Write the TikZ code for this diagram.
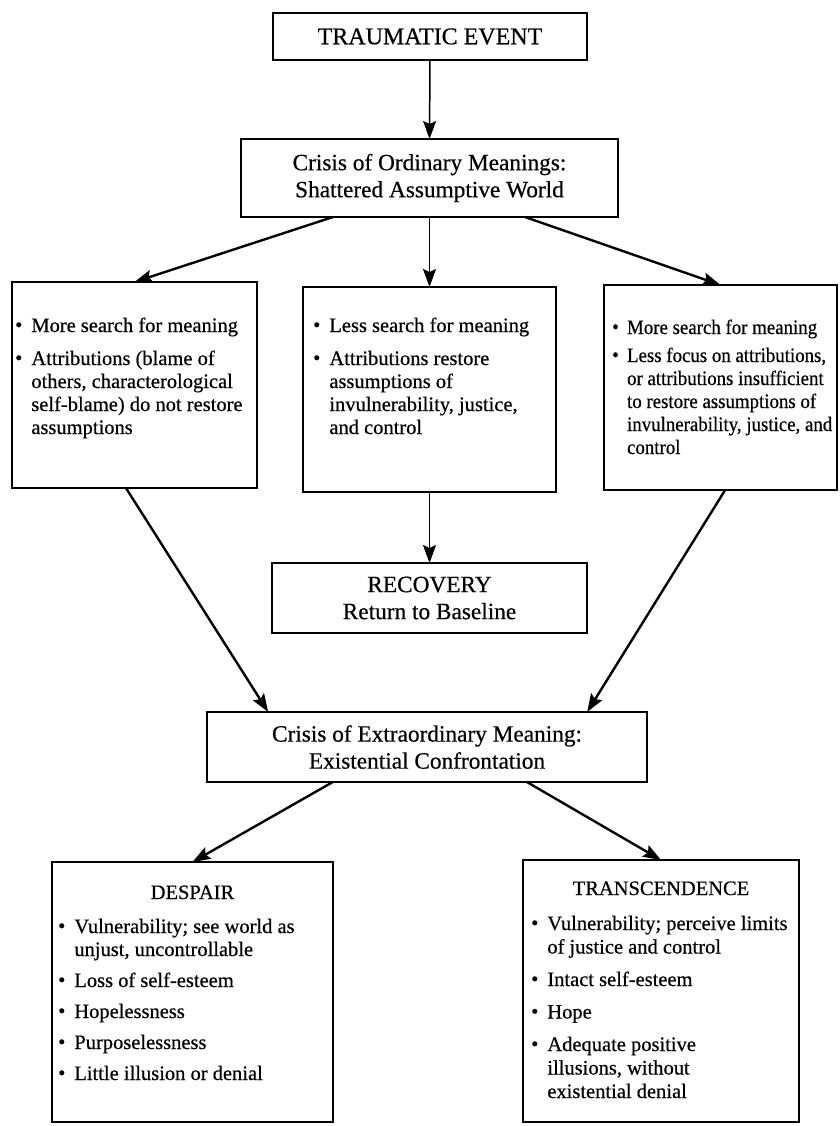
\documentclass[tikz,border=0pt]{standalone}
\usepackage{fontspec}
\setmainfont{Liberation Serif}[FakeBold=0.5]
\usepackage{graphicx}
\usetikzlibrary{arrows.meta,calc}

% list bullet
\newcommand{\bt}{\raisebox{0.02em}{\textbullet}}
\newcommand{\bodysize}{\fontsize{20.5}{23}\selectfont}
\newcommand{\headsize}{\fontsize{23.3}{27}\selectfont}

\begin{document}
\begin{tikzpicture}[x=1pt,y=-1pt,
  box/.style={draw, line width=1.4pt, inner sep=0pt, outer sep=0pt, anchor=north west},
  headbox/.style={box, font=\headsize, align=center},
  listtext/.style={font=\bodysize, inner sep=0pt, anchor=base west},
  boxtitle/.style={font=\bodysize, inner sep=0pt, anchor=base},
  arr/.style={-{Stealth[length=18pt,width=13pt,inset=3pt]}, line width=1.5pt},
  darr/.style={arr, line width=2.4pt}]
\fill[white] (0,0) rectangle (839,1126);
\useasboundingbox (0,0) rectangle (839,1126);

% ---- headline boxes
\node[box, minimum width=314pt, minimum height=47pt, font=\fontsize{24}{27}\selectfont] (te) at (273,13) {TRAUMATIC EVENT};
\node[headbox, minimum width=377pt, minimum height=78pt] (ca) at (241,139) {Crisis of Ordinary Meanings:\\Shattered Assumptive World};
\node[headbox, minimum width=315pt, minimum height=70pt] (rec) at (272,563) {RECOVERY\\Return to Baseline};
\node[headbox, minimum width=440pt, minimum height=70pt] (ce) at (207,712) {Crisis of Extraordinary Meaning:\\Existential Confrontation};

% ---- three paths
\node[box, minimum width=245pt, minimum height=206pt] (lb) at (12,282) {};
\node[box, minimum width=253pt, minimum height=205pt] (mb) at (303,287) {};
\node[box, minimum width=233pt, minimum height=205pt] (rb) at (604,285) {};

\node[listtext] (lbt) at (15,332) {\begin{tabular}[t]{@{}l@{\hspace{9pt}}l@{}}
\bt & More search for meaning\\[10pt]
\bt & Attributions (blame of\\
    & others, characterological\\
    & self-blame) do not restore\\
    & assumptions
\end{tabular}};

\node[listtext] (mbt) at (313,332) {\begin{tabular}[t]{@{}l@{\hspace{9pt}}l@{}}
\bt & Less search for meaning\\[10pt]
\bt & Attributions restore\\
    & assumptions of\\
    & invulnerability, justice,\\
    & and control
\end{tabular}};

\node[listtext] (rbt) at (612,334) {\scalebox{0.92}[1]{\begin{tabular}[t]{@{}l@{\hspace{9pt}}l@{}}
\bt & More search for meaning\\[5pt]
\bt & Less focus on attributions,\\
    & or attributions insufficient\\
    & to restore assumptions of\\
    & invulnerability, justice, and\\
    & control
\end{tabular}}};

% ---- outcomes
\node[box, minimum width=281pt, minimum height=260pt] (de) at (52,862) {};
\node[box, minimum width=276pt, minimum height=262pt] (tr) at (523,860) {};

\node[boxtitle] (det) at (192.5,899) {DESPAIR};
\node[boxtitle] (trt) at (661,895) {TRANSCENDENCE};

\node[listtext] (del) at (58,933) {\begin{tabular}[t]{@{}l@{\hspace{9pt}}l@{}}
\bt & Vulnerability; see world as\\
    & unjust, uncontrollable\\[8pt]
\bt & Loss of self-esteem\\[8pt]
\bt & Hopelessness\\[8pt]
\bt & Purposelessness\\[8pt]
\bt & Little illusion or denial
\end{tabular}};

\node[listtext, font=\fontsize{20.5}{23.5}\selectfont] (trl) at (531,930) {\begin{tabular}[t]{@{}l@{\hspace{9pt}}l@{}}
\bt & Vulnerability; perceive limits\\
    & of justice and control\\[9pt]
\bt & Intact self-esteem\\[9pt]
\bt & Hope\\[9pt]
\bt & Adequate positive\\
    & illusions, without\\
    & existential denial
\end{tabular}};

% ---- connectors
\draw[arr] (te.south) -- (ca.north);
\draw[darr] ($(ca.south west)!0.244!(ca.south east)$) -- (lb.north);
\draw[arr] (ca.south) -- (mb.north);
\draw[darr] ($(ca.south west)!0.753!(ca.south east)$) -- (rb.north);
\draw[arr] (mb.south) -- (rec.north);
\draw[darr] ($(lb.south west)!0.465!(lb.south east)$) -- ($(ce.north west)!0.139!(ce.north east)$);
\draw[darr] ($(rb.south west)!0.52!(rb.south east)$) -- ($(ce.north west)!0.864!(ce.north east)$);
\draw[darr] ($(ce.south west)!0.286!(ce.south east)$) -- (de.north);
\draw[darr] ($(ce.south west)!0.727!(ce.south east)$) -- (tr.north);
\end{tikzpicture}
\end{document}
